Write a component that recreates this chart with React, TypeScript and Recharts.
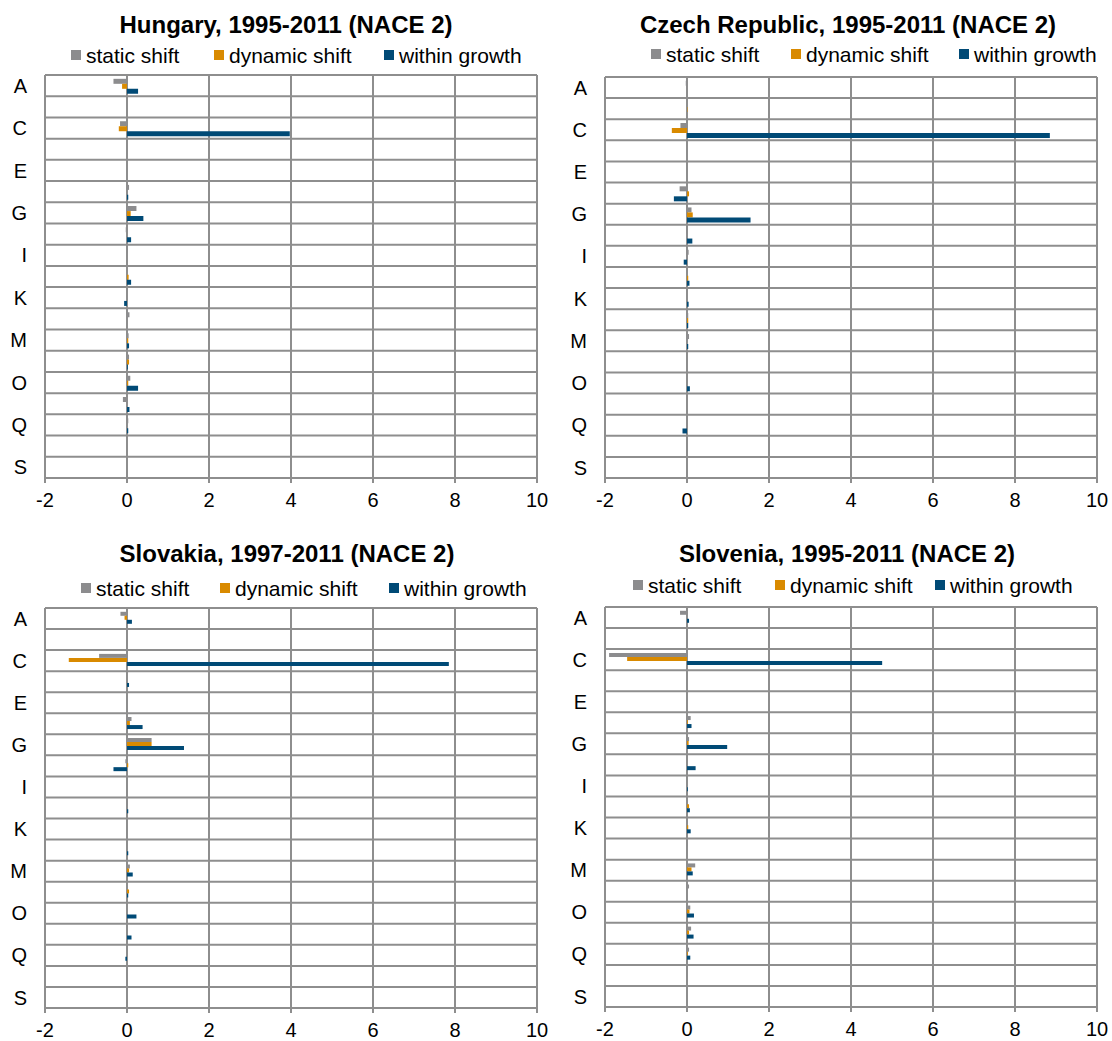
import React from 'react';
import { BarChart, Bar, XAxis, YAxis, CartesianGrid } from 'recharts';

const categories = ['A', 'B', 'C', 'D', 'E', 'F', 'G', 'H', 'I', 'J', 'K', 'L', 'M', 'N', 'O', 'P', 'Q', 'R', 'S'];
const xTicks = [-2, 0, 2, 4, 6, 8, 10];
const seriesNames = ['static shift', 'dynamic shift', 'within growth'];
const seriesColors = ['#8C8C8E', '#D98A00', '#004A76'];

// Hungary, 1995-2011
const huStatic = [-0.33, 0, -0.17, 0, 0, 0.05, 0.23, -0.03, 0.02, 0, 0, 0.06, 0.04, 0.05, 0.08, -0.1, 0.03, 0, 0];
const huDynamic = [-0.12, 0, -0.2, 0, 0, 0, 0.09, 0, 0, 0.04, 0, 0, 0.03, 0.05, 0.03, 0, 0, 0, 0];
const huWithin = [0.27, 0, 3.97, 0, 0, 0.03, 0.4, 0.1, 0, 0.1, -0.07, 0, 0.05, 0.02, 0.27, 0.06, 0.03, 0, 0];

// Czech Republic, 1995-2011
const czStatic = [-0.03, 0, -0.16, 0, 0, -0.18, 0.11, -0.01, 0.04, 0, 0, 0.03, 0.05, 0, 0, 0, 0, 0, 0];
const czDynamic = [0, 0.01, -0.37, 0, 0, 0.05, 0.14, 0, 0, 0.03, 0, 0.03, 0, 0, 0, 0, 0, 0, 0];
const czWithin = [0, 0, 8.85, 0, 0, -0.32, 1.55, 0.13, -0.08, 0.06, 0.04, 0.03, 0.03, 0, 0.07, 0, -0.11, 0, 0];

// Slovakia, 1997-2011
const skStatic = [-0.16, 0, -0.68, 0, 0, 0.11, 0.6, -0.04, 0, 0.02, 0, 0, 0.07, 0.02, 0, 0, 0, 0, 0];
const skDynamic = [-0.06, 0, -1.42, 0, 0, 0.07, 0.6, 0.03, 0, 0, 0, 0, 0.05, 0.05, 0, 0, 0, 0, 0];
const skWithin = [0.12, 0, 7.85, 0.05, 0, 0.38, 1.39, -0.33, 0, 0.03, 0, 0.03, 0.14, 0.03, 0.23, 0.11, -0.04, 0, 0];

// Slovenia, 1995-2011
const siStatic = [-0.17, 0, -1.9, 0, 0, 0.09, 0.05, 0, 0, 0.02, 0.02, 0.02, 0.2, 0.05, 0.08, 0.1, 0.05, 0, 0];
const siDynamic = [0, 0, -1.46, 0, 0, 0.02, 0.04, 0, 0, 0.05, 0.03, 0, 0.11, 0, 0.06, 0.05, 0.02, 0, 0];
const siWithin = [0.05, 0, 4.76, 0, 0, 0.11, 0.98, 0.21, 0.02, 0.07, 0.09, 0, 0.14, 0, 0.17, 0.16, 0.08, 0, 0];

const FONT = '"Liberation Sans", Arial, Helvetica, sans-serif';
const GRID = '#8E8E8E';
const PANEL_W = 556;
const PANEL_H = 520;

function buildRows(s: number[], d: number[], w: number[]) {
  return categories.map((cat, i) => ({ cat, s: s[i], d: d[i], w: w[i] }));
}

type PanelProps = {
  left: number;
  top: number;
  title: string;
  data: any[];
  titleX: number;
  titleY: number;
  legendXs: number[];
  legendY: number;
  plotTop: number;
  plotBottom: number;
};

function Panel(p: PanelProps) {
  const xAxisH = 30;
  const gridGen = ({ offset }: any) => {
    const n = categories.length;
    const out: number[] = [];
    for (let i = 0; i <= n; i++) out.push(offset.top + (i * offset.height) / n);
    return out;
  };
  return (
    <div style={{ position: 'absolute', left: p.left, top: p.top, width: PANEL_W, height: PANEL_H }}>
      <div style={{ position: 'absolute', left: 0, top: 0 }}>
        <BarChart
          width={PANEL_W}
          height={PANEL_H}
          data={p.data}
          layout="vertical"
          margin={{ top: p.plotTop, right: 19, bottom: PANEL_H - p.plotBottom - xAxisH, left: 0 }}
          barCategoryGap="18%"
          barGap={0}
        >
          <CartesianGrid
            stroke={GRID}
            strokeWidth={2}
            horizontalCoordinatesGenerator={gridGen}
          />
          <XAxis
            type="number"
            domain={[-2, 10]}
            ticks={xTicks}
            allowDataOverflow
            height={xAxisH}
            tickSize={5}
            tickMargin={10}
            tickLine={{ stroke: GRID, strokeWidth: 2 }}
            axisLine={{ stroke: GRID, strokeWidth: 2 }}
            tick={{ fontSize: 20, fill: '#000', fontFamily: FONT }}
          />
          <YAxis
            type="category"
            dataKey="cat"
            width={45}
            interval={1}
            tickLine={false}
            tickSize={0}
            tickMargin={18}
            axisLine={{ stroke: GRID, strokeWidth: 2 }}
            tick={{ fontSize: 20, fill: '#000', fontFamily: FONT }}
          />
          <Bar dataKey="s" name={seriesNames[0]} fill={seriesColors[0]} isAnimationActive={false} />
          <Bar dataKey="d" name={seriesNames[1]} fill={seriesColors[1]} isAnimationActive={false} />
          <Bar dataKey="w" name={seriesNames[2]} fill={seriesColors[2]} isAnimationActive={false} />
        </BarChart>
      </div>
      <svg width={PANEL_W} height={72} style={{ position: 'absolute', left: 0, top: 0 }}>
        <text
          x={p.titleX}
          y={p.titleY}
          textAnchor="middle"
          fontFamily={FONT}
          fontWeight="bold"
          fontSize={24}
          fill="#000"
        >
          {p.title}
        </text>
        {seriesNames.map((n, i) => (
          <g key={n}>
            <rect x={p.legendXs[i]} y={p.legendY - 5} width={10} height={10} fill={seriesColors[i]} />
            <text x={p.legendXs[i] + 15} y={p.legendY + 7.5} fontFamily={FONT} fontSize={21} fill="#000">
              {n}
            </text>
          </g>
        ))}
      </svg>
    </div>
  );
}

export default function App() {
  return (
    <div style={{ position: 'absolute', left: 0, top: 0, width: 1112, height: 1041, background: '#fff' }}>
      <Panel
        left={0}
        top={0}
        title="Hungary, 1995-2011 (NACE 2)"
        data={buildRows(huStatic, huDynamic, huWithin)}
        titleX={286}
        titleY={33}
        legendXs={[71, 214, 384]}
        legendY={55}
        plotTop={75}
        plotBottom={478}
      />
      <Panel
        left={560}
        top={0}
        title="Czech Republic, 1995-2011 (NACE 2)"
        data={buildRows(czStatic, czDynamic, czWithin)}
        titleX={288}
        titleY={33}
        legendXs={[91, 231, 399]}
        legendY={54}
        plotTop={77}
        plotBottom={478}
      />
      <Panel
        left={0}
        top={530}
        title="Slovakia, 1997-2011 (NACE 2)"
        data={buildRows(skStatic, skDynamic, skWithin)}
        titleX={287}
        titleY={32}
        legendXs={[81, 220, 389]}
        legendY={58}
        plotTop={78}
        plotBottom={478}
      />
      <Panel
        left={560}
        top={530}
        title="Slovenia, 1995-2011 (NACE 2)"
        data={buildRows(siStatic, siDynamic, siWithin)}
        titleX={287}
        titleY={32}
        legendXs={[73, 215, 375]}
        legendY={55}
        plotTop={77}
        plotBottom={477}
      />
    </div>
  );
}
